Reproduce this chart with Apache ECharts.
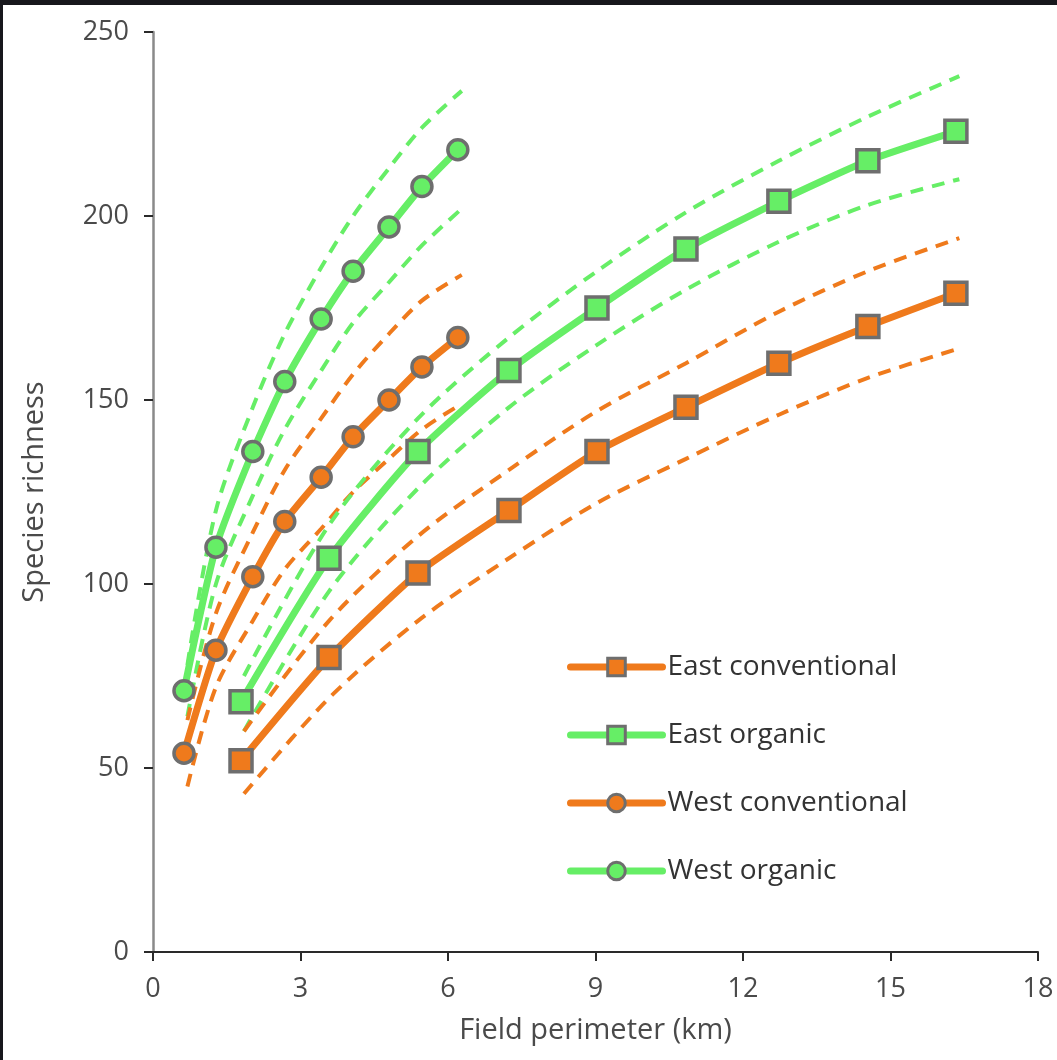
<!DOCTYPE html>
<html>
<head>
<meta charset="utf-8">
<script src="https://cdn.jsdelivr.net/npm/echarts@6/dist/echarts.min.js"></script>
<style>
  html, body { margin: 0; padding: 0; background: #ffffff; }
  #chart { position: absolute; left: 0; top: 0; width: 1057px; height: 1060px; background: #ffffff; }
  .edgeTop { position: absolute; left: 0; top: 0; width: 1057px; height: 5px; background: #17171c; z-index: 5; }
  .edgeLeft { position: absolute; left: 0; top: 0; width: 3px; height: 1060px; background: #17171c; z-index: 5; }
</style>
</head>
<body>
<div id="chart"></div>
<div class="edgeTop"></div>
<div class="edgeLeft"></div>
<script>
// ---- Data ----
const westX = [0.63, 1.28, 2.03, 2.68, 3.42, 4.07, 4.80, 5.47, 6.20];
const westBandX = [0.70, 1.28, 2.03, 2.68, 3.42, 4.07, 4.80, 5.47, 6.28];
const eastX = [1.79, 3.58, 5.39, 7.24, 9.03, 10.84, 12.73, 14.54, 16.33];
const eastBandX = [1.85, 3.58, 5.39, 7.24, 9.03, 10.84, 12.73, 14.54, 16.40];

const westOrganic      = [71, 110, 136, 155, 172, 185, 197, 208, 218];
const westOrganicUp    = [78, 120, 148, 168, 186, 200, 213, 224, 234];
const westOrganicLo    = [64, 100, 124, 142, 158, 171, 182, 192, 202];

const westConv         = [54, 82, 102, 117, 129, 140, 150, 159, 167];
const westConvUp       = [63, 92, 114, 131, 145, 157, 168, 177, 184];
const westConvLo       = [45, 72, 90, 104, 115, 125, 134, 142, 149];

const eastOrganic      = [68, 107, 136, 158, 175, 191, 204, 215, 223];
const eastOrganicUp    = [75, 116, 145, 167, 185, 201, 215, 227, 238];
const eastOrganicLo    = [60, 98, 126, 148, 165, 180, 193, 203, 210];

const eastConv         = [52, 80, 103, 120, 136, 148, 160, 170, 179];
const eastConvUp       = [60, 90, 113, 131, 147, 160, 174, 185, 194];
const eastConvLo       = [43, 69, 90, 107, 122, 134, 146, 156, 164];

const xTicks = [0, 3, 6, 9, 12, 15, 18];
const yTicks = [0, 50, 100, 150, 200, 250];
const legendNames = ['East conventional', 'East organic', 'West conventional', 'West organic'];

// ---- Styles ----
const GREEN = '#66ee66';
const ORANGE = '#ef7a1c';
const MARK_BORDER = '#6e6e6e';

function pairs(xs, ys) { return xs.map((x, i) => [x, ys[i]]); }

function mainSeries(name, xs, ys, color, symbol, size) {
  return {
    name: name, type: 'line', data: pairs(xs, ys), smooth: 0.2,
    symbol: symbol, symbolSize: size, showSymbol: true,
    lineStyle: { color: color, width: 7 },
    itemStyle: { color: color, borderColor: MARK_BORDER, borderWidth: 3.5 },
    z: 10, animation: false
  };
}
function bandSeries(xs, ys, color) {
  return {
    type: 'line', data: pairs(xs, ys), smooth: 0.3, symbol: 'none',
    lineStyle: { color: color, width: 4, type: [13, 9] },
    z: 3, animation: false, silent: true, tooltip: { show: false }
  };
}

const chart = echarts.init(document.getElementById('chart'), null, { renderer: 'canvas' });
const FONT = 'Open Sans';
const TXT = '#4a4a4a';
chart.setOption({
  backgroundColor: '#ffffff',
  animation: false,
  grid: { left: 153, right: 19, top: 32, bottom: 108, containLabel: false },
  legend: {
    data: legendNames.map(n => ({ name: n })),
    left: 562, top: 648, orient: 'vertical',
    itemWidth: 92, itemHeight: 22, itemGap: 40,
    lineStyle: { width: 7, cap: 'round' },
    itemStyle: { borderWidth: 3, borderColor: MARK_BORDER },
    textStyle: { fontFamily: FONT, fontSize: 28, color: '#333333', lineHeight: 22, padding: [0, 0, 0, 0] }
  },
  xAxis: {
    type: 'value', min: 0, max: 18, interval: 3,
    name: 'Field perimeter (km)', nameLocation: 'middle', nameGap: 64,
    nameTextStyle: { fontFamily: FONT, fontSize: 29, color: TXT },
    axisLine: { show: true, onZero: false, lineStyle: { color: '#2a2a2a', width: 2 } },
    axisTick: { show: true, inside: false, length: 9, lineStyle: { color: '#2a2a2a', width: 2 } },
    axisLabel: { fontFamily: FONT, fontSize: 27, color: TXT, margin: 24,
      formatter: v => xTicks.includes(v) ? String(v) : '' },
    splitLine: { show: false }
  },
  yAxis: {
    type: 'value', min: 0, max: 250, interval: 50,
    name: 'Species richness', nameLocation: 'middle', nameGap: 104,
    nameTextStyle: { fontFamily: FONT, fontSize: 29, color: TXT },
    axisLine: { show: true, onZero: false, lineStyle: { color: '#8a8a8a', width: 2.5 } },
    axisTick: { show: true, inside: false, length: 9, lineStyle: { color: '#2a2a2a', width: 2 } },
    axisLabel: { fontFamily: FONT, fontSize: 27, color: TXT, margin: 24,
      formatter: v => yTicks.includes(v) ? String(v) : '' },
    splitLine: { show: false }
  },
  series: [
    bandSeries(westBandX, westOrganicUp, GREEN),
    bandSeries(westBandX, westOrganicLo, GREEN),
    bandSeries(westBandX, westConvUp, ORANGE),
    bandSeries(westBandX, westConvLo, ORANGE),
    bandSeries(eastBandX, eastOrganicUp, GREEN),
    bandSeries(eastBandX, eastOrganicLo, GREEN),
    bandSeries(eastBandX, eastConvUp, ORANGE),
    bandSeries(eastBandX, eastConvLo, ORANGE),
    mainSeries('East conventional', eastX, eastConv, ORANGE, 'rect', 22),
    mainSeries('East organic', eastX, eastOrganic, GREEN, 'rect', 22),
    mainSeries('West conventional', westX, westConv, ORANGE, 'circle', 20),
    mainSeries('West organic', westX, westOrganic, GREEN, 'circle', 20)
  ]
});
</script>
</body>
</html>
